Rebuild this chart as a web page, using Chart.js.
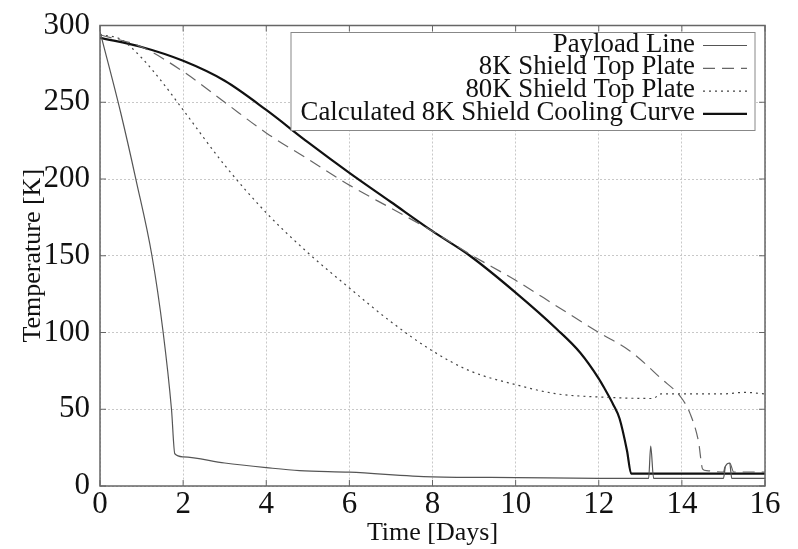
<!DOCTYPE html>
<html>
<head>
<meta charset="utf-8">
<script src="https://cdn.jsdelivr.net/npm/chart.js@4"></script>
<style>
  html, body { margin: 0; padding: 0; background: #fff; }
  #wrap { width: 798px; height: 549px; }
</style>
</head>
<body>
<div id="wrap"><canvas id="chart" width="798" height="549"></canvas></div>
<script>
// Values (days vs temperature in K)
const payloadDays  = [0, 0.5, 0.87, 1.25, 1.52, 1.72, 1.8, 2, 3, 4, 4.8, 6, 8, 10, 12, 13.2, 13.25, 13.32, 15.0, 15.05, 15.15, 15.2, 16];
const payloadTemps = [296, 243, 199, 150, 100, 50, 21, 19, 15, 12, 10, 9, 6, 5.5, 5, 5, 26, 5, 5, 13, 15, 5, 5];

const shield8Days  = [0, 1, 2, 3, 4, 5, 6, 7, 8, 8.9, 10, 11, 12, 12.75, 13.5, 14, 14.2, 14.4, 14.5, 14.6, 15, 15.05, 15.15, 15.25, 16];
const shield8Temps = [294, 286, 270, 250, 230, 213, 196, 181, 166, 151, 134, 117, 100, 88, 70, 57, 47, 29, 11, 10, 9, 14, 15, 9, 9];

const shield80Days  = [0, 0.5, 1, 1.5, 2, 3, 4, 5, 6, 7, 8, 8.9, 10, 11, 12, 13.3, 13.5, 14, 15, 15.5, 16];
const shield80Temps = [294, 291, 279, 263, 245, 209, 178, 152, 129, 107, 88, 75, 66, 60, 58, 57, 60, 60, 60, 61, 60];

const coolDays  = [0, 1, 2, 3, 4, 5, 6, 7, 8, 8.9, 10, 11, 11.55, 12, 12.15, 12.35, 12.5, 12.68, 12.78, 16];
const coolTemps = [292, 286, 277, 264, 245, 224, 204, 185, 166, 150, 126, 102, 87, 70, 63, 53, 44, 23, 8, 8];

const seriesLabels = ['Payload Line', '8K Shield Top Plate', '80K Shield Top Plate', 'Calculated 8K Shield Cooling Curve'];

const xTicks = [0, 2, 4, 6, 8, 10, 12, 14, 16];
const yTicks = [0, 50, 100, 150, 200, 250, 300];

const serif = "'Liberation Serif', 'DejaVu Serif', serif";

function toPoints(xs, ys) {
    return xs.map((x, i) => ({ x: x, y: ys[i] }));
}

// Box around the plot, inward tick marks and the gnuplot style key
const framePlugin = {
    id: 'frame',
    afterDraw(chart) {
        const ctx = chart.ctx;
        const a = chart.chartArea;
        const xs = chart.scales.x, ys = chart.scales.y;
        ctx.save();
        ctx.strokeStyle = '#666';
        ctx.lineWidth = 1.5;
        ctx.strokeRect(a.left, a.top, a.right - a.left, a.bottom - a.top);
        ctx.lineWidth = 1;
        xTicks.forEach(v => {
            const px = xs.getPixelForValue(v);
            ctx.beginPath();
            ctx.moveTo(px, a.bottom); ctx.lineTo(px, a.bottom - 6);
            ctx.moveTo(px, a.top); ctx.lineTo(px, a.top + 6);
            ctx.stroke();
        });
        yTicks.forEach(v => {
            const py = ys.getPixelForValue(v);
            ctx.beginPath();
            ctx.moveTo(a.left, py); ctx.lineTo(a.left + 6, py);
            ctx.moveTo(a.right, py); ctx.lineTo(a.right - 6, py);
            ctx.stroke();
        });

        // key
        const boxRight = a.right - 10, boxTop = a.top + 7;
        const boxW = 464, boxH = 98;
        ctx.fillStyle = '#fff';
        ctx.fillRect(boxRight - boxW, boxTop, boxW, boxH);
        ctx.strokeStyle = '#888';
        ctx.strokeRect(boxRight - boxW, boxTop, boxW, boxH);
        ctx.font = '26.8px ' + serif;
        ctx.textAlign = 'right';
        ctx.textBaseline = 'middle';
        chart.data.datasets.forEach((ds, i) => {
            const y = boxTop + 12 + i * 22.8;
            ctx.fillStyle = '#111';
            ctx.fillText(ds.label, boxRight - 60, y);
            ctx.strokeStyle = ds.borderColor;
            ctx.lineWidth = ds.borderWidth;
            ctx.setLineDash(ds.borderDash || []);
            ctx.beginPath();
            ctx.moveTo(boxRight - 52, y + 1);
            ctx.lineTo(boxRight - 8, y + 1);
            ctx.stroke();
            ctx.setLineDash([]);
        });
        ctx.restore();
    }
};

new Chart(document.getElementById('chart').getContext('2d'), {
    type: 'line',
    data: {
        datasets: [
            { label: seriesLabels[0], data: toPoints(payloadDays, payloadTemps), borderColor: '#555', borderWidth: 1.2 },
            { label: seriesLabels[1], data: toPoints(shield8Days, shield8Temps), borderColor: '#666', borderWidth: 1.2, borderDash: [12, 7] },
            { label: seriesLabels[2], data: toPoints(shield80Days, shield80Temps), borderColor: '#444', borderWidth: 1.2, borderDash: [2, 4] },
            { label: seriesLabels[3], data: toPoints(coolDays, coolTemps), borderColor: '#111', borderWidth: 2.2 }
        ]
    },
    options: {
        responsive: false,
        animation: false,
        layout: { padding: { top: 25, right: 33, left: 0, bottom: 0 } },
        elements: {
            point: { radius: 0 },
            line: { cubicInterpolationMode: 'monotone', fill: false }
        },
        plugins: {
            legend: { display: false },
            tooltip: { enabled: false }
        },
        scales: {
            x: {
                type: 'linear',
                min: 0, max: 16,
                afterBuildTicks: s => { s.ticks = xTicks.map(v => ({ value: v })); },
                afterFit: s => { s.height = 63; },
                grid: { color: '#c8c8c8', drawTicks: false },
                border: { display: false, dash: [2, 2] },
                ticks: { color: '#111', font: { family: serif, size: 31, lineHeight: 1 }, padding: 3, maxRotation: 0 },
                title: { display: true, text: 'Time [Days]', color: '#111', font: { family: serif, size: 26 }, padding: { top: -6, bottom: 0 } }
            },
            y: {
                min: 0, max: 300,
                afterBuildTicks: s => { s.ticks = yTicks.map(v => ({ value: v })); },
                afterFit: s => { s.width = 100; },
                grid: { color: '#c8c8c8', drawTicks: false },
                border: { display: false, dash: [2, 2] },
                ticks: { color: '#111', font: { family: serif, size: 31, lineHeight: 1 }, padding: 10 },
                title: { display: true, text: 'Temperature [K]', color: '#111', font: { family: serif, size: 26 }, padding: { top: 18, bottom: 0 } }
            }
        }
    },
    plugins: [framePlugin]
});
</script>
</body>
</html>
